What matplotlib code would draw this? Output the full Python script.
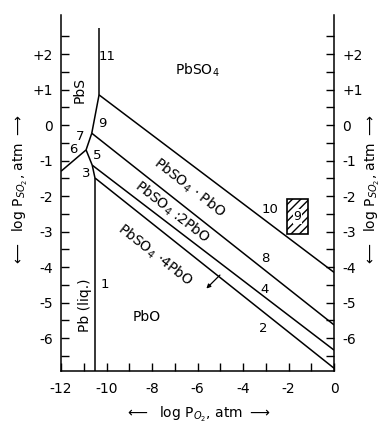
import matplotlib
matplotlib.use('Agg')
import matplotlib.pyplot as plt
from matplotlib.patches import Rectangle

# boundary lines (log pO2, log pSO2)
line_11 = ([-10.33, -10.33], [2.73, 0.85])
line_9 = ([-10.33, -10.65], [0.85, -0.23])
line_7 = ([-10.65, -10.90], [-0.23, -0.70])
line_6 = ([-10.90, -12.0], [-0.70, -1.30])
line_5 = ([-10.90, -10.63], [-0.70, -1.13])
line_3 = ([-10.63, -10.51], [-1.13, -1.49])
line_1 = ([-10.51, -10.51], [-1.49, -6.93])
line_10 = ([-10.33, 0.0], [0.85, -4.15])
line_8 = ([-10.65, 0.0], [-0.23, -5.63])
line_4 = ([-10.63, 0.0], [-1.13, -6.34])
line_2 = ([-10.51, 0.0], [-1.49, -6.85])
lines = [line_11, line_9, line_7, line_6, line_5, line_3, line_1,
         line_10, line_8, line_4, line_2]

# line numbers
num_labels = ['11', '9', '7', '6', '5', '3', '1', '10', '8', '4', '2']
num_x = [-9.98, -10.2, -11.17, -11.47, -10.42, -10.9, -10.07, -2.83, -3.04, -3.04, -3.13]
num_y = [1.92, 0.05, -0.33, -0.70, -0.85, -1.36, -4.5, -2.39, -3.75, -4.62, -5.72]

xticks = [-12, -10, -8, -6, -4, -2, 0]
xtick_labels = ['-12', '-10', '-8', '-6', '-4', '-2', '0']
yticks = [2, 1, 0, -1, -2, -3, -4, -5, -6]
ytick_labels = ['+2', '+1', '0', '-1', '-2', '-3', '-4', '-5', '-6']

fig = plt.figure(figsize=(3.84, 4.29), dpi=100)
ax = fig.add_axes([0.159, 0.135, 0.711, 0.830])
ax.set_xlim(-12, 0)
ax.set_ylim(-6.93, 3.1)

for xs, ys in lines:
    ax.plot(xs, ys, color='black', lw=1.1, solid_capstyle='butt')

for t, x, y in zip(num_labels, num_x, num_y):
    ax.text(x, y, t, fontsize=9.5, ha='center', va='center')

# phase fields
ax.text(-5.99, 1.55, 'PbSO$_4$', fontsize=10, ha='center', va='center')
ax.text(-11.17, 0.99, 'PbS', fontsize=10, ha='center', va='center', rotation=90)
ax.text(-10.95, -5.07, 'Pb (liq.)', fontsize=10, ha='center', va='center', rotation=90)
ax.text(-8.22, -5.4, 'PbO', fontsize=10, ha='center', va='center')
ax.text(-6.38, -1.77, 'PbSO$_4$ $\\cdot$ PbO', fontsize=10, ha='center', va='center', rotation=-38)
ax.text(-7.13, -2.45, 'PbSO$_4$ :2PbO', fontsize=10, ha='center', va='center', rotation=-38)
ax.text(-7.87, -3.66, 'PbSO$_4$ $\\cdot$4PbO', fontsize=10, ha='center', va='center', rotation=-38)
ax.annotate('', xy=(-5.7, -4.66), xytext=(-4.93, -4.17),
            arrowprops=dict(arrowstyle='-|>', lw=0.9, color='black', mutation_scale=6))

# hatched figure tag
ax.add_patch(Rectangle((0.828, 0.385), 0.077, 0.098, transform=ax.transAxes,
                       facecolor='white', edgecolor='black', hatch='////', lw=1.2))
ax.text(0.866, 0.434, '9', transform=ax.transAxes, fontsize=9, ha='center', va='center',
        bbox=dict(facecolor='white', edgecolor='none', pad=0.5))

ax.spines['top'].set_visible(False)
for s in ['left', 'right', 'bottom']:
    ax.spines[s].set_linewidth(1.1)

ax.set_xticks(xticks)
ax.set_xticklabels(xtick_labels, fontsize=10)
ax.set_xticks([-11, -9, -7, -5, -3, -1], minor=True)
ax.set_yticks(yticks)
ax.set_yticklabels(ytick_labels, fontsize=10)
ax.set_yticks([2.5, 1.5, 0.5, -0.5, -1.5, -2.5, -3.5, -4.5, -5.5, -6.5], minor=True)
ax.tick_params(axis='both', which='both', direction='in', length=6, width=1.0,
               right=True, labelright=True, top=False)
ax.tick_params(axis='x', which='both', pad=8)
ax.tick_params(axis='y', which='both', pad=6)

ax.set_xlabel('$\\longleftarrow$  log P$_{O_2}$, atm $\\longrightarrow$', fontsize=10, labelpad=6)

ylab = '$\\longleftarrow$  log P$_{SO_2}$, atm $\\longrightarrow$'
fig.text(20 / 384, 1 - 190 / 429, ylab, fontsize=10, rotation=90, ha='center', va='center')
fig.text(372 / 384, 1 - 190 / 429, ylab, fontsize=10, rotation=90, ha='center', va='center')

fig.savefig('out.png', dpi=100)
